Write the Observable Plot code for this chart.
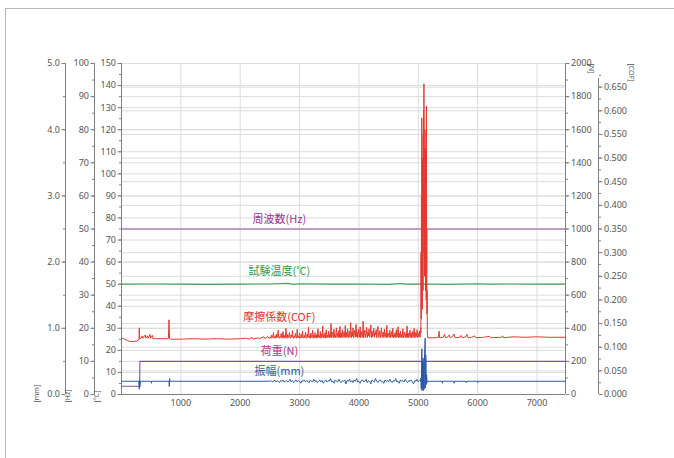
<!DOCTYPE html>
<html><head><meta charset="utf-8">
<script src="https://cdn.jsdelivr.net/npm/d3@7"></script>
<script src="https://cdn.jsdelivr.net/npm/@observablehq/plot@0.6"></script>
<style>
html,body{margin:0;padding:0;background:#fff;}
#chart{position:relative;width:674px;height:458px;overflow:hidden;}
#chart svg{position:absolute;left:0;top:0;}
#border{position:absolute;left:5px;top:8px;width:700px;height:500px;border-top:1.5px solid #b8b8b8;border-left:1.5px solid #b8b8b8;}
</style></head><body>
<div id="chart"><div id="border"></div></div>
<script>
// ---- tick values ----
const timeTicks = [1000, 2000, 3000, 4000, 5000, 6000, 7000];
const mmTicks = [0, 1, 2, 3, 4, 5];
const hzTicks = [0, 10, 20, 30, 40, 50, 60, 70, 80, 90, 100];
const tempTicks = [0, 10, 20, 30, 40, 50, 60, 70, 80, 90, 100, 110, 120, 130, 140, 150];
const loadTicks = [0, 200, 400, 600, 800, 1000, 1200, 1400, 1600, 1800, 2000];
const cofTicks = [0, 0.05, 0.1, 0.15, 0.2, 0.25, 0.3, 0.35, 0.4, 0.45, 0.5, 0.55, 0.6, 0.65];

// ---- series labels ----
const labelHz = "周波数(Hz)";
const labelTemp = "試験温度(˚C)";
const labelCof = "摩擦係数(COF)";
const labelLoad = "荷重(N)";
const labelAmp = "振幅(mm)";

// ---- series data: [time s, value] ----
const freqHz = [[0, 50], [7480, 50]];
const tempC = [[0, 50.0], [500, 50.1], [1000, 50.0], [1500, 49.9], [2000, 50.0], [2500, 50.1], [2800, 50.4], [2900, 49.9],
  [3000, 50.2], [3500, 50.0], [4000, 50.1], [4500, 49.9], [4700, 50.3], [4800, 50.0], [5100, 50.1], [5500, 49.9],
  [6000, 50.2], [6200, 50.0], [6500, 50.1], [7000, 50.0], [7480, 50.0]];
const loadN = [[0, 50], [305, 50], [310, 200], [7480, 200]];

// amplitude [mm]
const ampStart = [[0, 0.2], [290, 0.2], [300, 0.08], [305, 0.22], [310, 0.12], [320, 0.2], [500, 0.2], [505, 0.17], [510, 0.2],
  [800, 0.2], [805, 0.12], [810, 0.24], [815, 0.2], [2480, 0.2]];
const ampNoiseT0 = 2500, ampNoiseDt = 20;   // logged every 20 s
const ampNoise = [
  .20,.21,.19,.20,.22,.19,.21,.20,.18,.21,.20,.22,.19,.20,.21,.19,
  .20,.23,.19,.21,.18,.20,.22,.19,.21,.20,.17,.21,.20,.22,.19,.21,
  .20,.18,.22,.20,.19,.23,.20,.21,.18,.20,.22,.19,.21,.17,.20,.22,
  .19,.21,.20,.24,.19,.20,.17,.22,.20,.19,.23,.20,.18,.21,.20,.22,
  .16,.21,.20,.23,.19,.21,.18,.22,.20,.24,.19,.20,.17,.21,.22,.19,
  .20,.23,.18,.21,.20,.16,.22,.20,.19,.24,.20,.18,.21,.22,.19,.20,
  .17,.22,.20,.21,.19,.23,.20,.18,.21,.20,.24,.19,.20,.17,.22,.20,
  .21,.19,.23,.20,.18,.21,.20,.22,.19,.16,.21,.20,.23,.19,.21,.20];
const ampEnd = [[5045, 0.25], [5050, 0.08], [5055, 0.40], [5060, 0.69], [5064, 0.06], [5068, 0.50], [5072, 0.45], [5076, 0.10],
  [5080, 0.55], [5085, 0.06], [5090, 0.48], [5095, 0.40], [5100, 0.08], [5105, 0.62], [5110, 0.70], [5116, 0.85], [5120, 0.10],
  [5125, 0.60], [5130, 0.50], [5134, 0.15], [5140, 0.30], [5148, 0.18], [5158, 0.2], [5400, 0.2], [5405, 0.17], [5410, 0.2],
  [5600, 0.2], [5605, 0.17], [5610, 0.2], [5800, 0.2], [5805, 0.18], [5810, 0.2], [6000, 0.2], [6005, 0.18], [6010, 0.2], [7480, 0.2]];

// friction coefficient
const cofStart = [[0, 0.120], [40, 0.118], [100, 0.114], [150, 0.112], [200, 0.112], [260, 0.113], [295, 0.116], [300, 0.141], [305, 0.118],
  [330, 0.119], [350, 0.124], [360, 0.119], [400, 0.126], [410, 0.119], [440, 0.124], [450, 0.119], [480, 0.127], [490, 0.119],
  [520, 0.125], [530, 0.118], [600, 0.118], [790, 0.118], [800, 0.158], [810, 0.118], [830, 0.117], [1000, 0.117], [1200, 0.118],
  [1400, 0.117], [1600, 0.118], [1800, 0.117], [2000, 0.118], [2100, 0.119], [2150, 0.117], [2200, 0.121], [2220, 0.117],
  [2300, 0.120], [2320, 0.118], [2400, 0.122], [2420, 0.118], [2460, 0.123], [2480, 0.119]];
const cofNoiseT0 = 2500, cofNoiseDt = 10;   // logged every 10 s
const cofNoise = [
  .120,.122,.119,.126,.120,.121,.131,.119,.120,.124,.119,.128,.120,.121,.136,.120,.119,.123,.121,.129,
  .119,.120,.133,.121,.119,.125,.120,.140,.121,.119,.127,.120,.122,.131,.119,.120,.126,.121,.135,.120,
  .119,.124,.120,.129,.121,.119,.138,.120,.123,.120,.130,.119,.121,.127,.120,.134,.121,.119,.125,.120,
  .132,.120,.119,.128,.121,.142,.120,.124,.119,.130,.121,.120,.136,.119,.126,.120,.131,.121,.119,.127,
  .120,.139,.121,.124,.120,.133,.119,.128,.121,.145,.120,.126,.121,.131,.119,.137,.120,.125,.121,.134,
  .120,.128,.121,.150,.120,.127,.132,.120,.138,.121,.126,.120,.141,.122,.129,.120,.135,.121,.144,.120,
  .130,.121,.137,.120,.127,.133,.121,.146,.120,.131,.122,.139,.120,.128,.134,.121,.152,.120,.132,.123,
  .141,.120,.129,.136,.121,.148,.122,.131,.120,.138,.127,.121,.143,.120,.133,.125,.121,.155,.120,.130,
  .136,.121,.128,.142,.120,.132,.124,.139,.121,.129,.147,.120,.134,.122,.128,.140,.121,.131,.126,.137,
  .120,.133,.144,.121,.127,.135,.120,.130,.141,.121,.126,.132,.120,.138,.123,.129,.120,.146,.121,.130,
  .125,.121,.136,.120,.128,.133,.121,.140,.120,.127,.122,.131,.120,.137,.121,.126,.143,.120,.129,.121,
  .134,.120,.127,.121,.139,.120,.125,.132,.121,.128,.120,.145,.121,.130,.120,.126,.136,.121,.129,.120,
  .133,.121,.127,.140,.120,.131,.121,.126,.137,.120,.129,.122,.134,.121,.142];
const cofSpikeT0 = 5044, cofSpikeDt = 3;    // logged every 3 s during seizure
const cofSpike = [.13,.30,.16,.42,.20,.585,.25,.38,.18,.50,.30,.45,.22,.55,.35,.60,.40,.657,.30,.52,.25,.48,.35,.56,.28,.46,
  .22,.52,.30,.42,.20,.61,.26,.35,.17,.22,.14,.125];
const cofEnd = [[5160, 0.120], [5300, 0.120], [5340, 0.121], [5350, 0.134], [5360, 0.120],
  [5420, 0.121], [5440, 0.127], [5460, 0.120], [5500, 0.122], [5520, 0.126], [5540, 0.120], [5580, 0.123], [5600, 0.128],
  [5620, 0.120], [5700, 0.121], [5720, 0.125], [5740, 0.120], [5800, 0.122], [5820, 0.127], [5840, 0.120], [5900, 0.121],
  [5950, 0.124], [5970, 0.120], [6100, 0.121], [6200, 0.123], [6220, 0.120], [6400, 0.121], [6420, 0.124], [6440, 0.120],
  [6600, 0.122], [6800, 0.121], [7000, 0.122], [7200, 0.121], [7480, 0.121]];

// assemble logged segments
const logged = (t0, dt, vals) => vals.map((v, i) => [t0 + i * dt, v]);
const amplitudeMm = [...ampStart, ...logged(ampNoiseT0, ampNoiseDt, ampNoise), ...ampEnd];
const cof = [...cofStart, ...logged(cofNoiseT0, cofNoiseDt, cofNoise), ...logged(cofSpikeT0, cofSpikeDt, cofSpike), ...cofEnd];

// ---- layout ----
const W = 674, H = 458;
const xDomain = [0, 7480];
const tickFont = "'Noto Sans', 'DejaVu Sans', sans-serif";
const labelFont = "'Noto Sans CJK JP', 'Noto Sans', sans-serif";
const gridColor = "#dcdcdc";
const axisColor = "#808080";
const textColor = "#555";

function layer(yDomain, marks) {
  return Plot.plot({
    width: W, height: H,
    marginLeft: 121, marginRight: 109, marginTop: 63, marginBottom: 64,
    x: {domain: xDomain, axis: null},
    y: {domain: yDomain, axis: null},
    style: {background: "transparent", fontFamily: tickFont, fontSize: "9px", overflow: "visible"},
    marks
  });
}
const X = d => d[0], Y = d => d[1];
function yAxis(ticks, minor, dx, anchor, fmt) {
  return [
    Plot.axisY(minor, {anchor, dx, tickSize: 2, tickFormat: () => "", stroke: axisColor, label: null}),
    Plot.axisY(ticks, {anchor, dx, tickSize: 3.5, tickPadding: 2, tickFormat: fmt, stroke: axisColor, fill: textColor, label: null})
  ];
}
function unitLabel(t, frameAnchor, dx, dy, rotate) {
  return Plot.text([t], {text: d => d, frameAnchor, dx, dy, rotate, textAnchor: "start", fontSize: 7, fill: textColor});
}

const chart = document.getElementById("chart");
const add = svg => chart.appendChild(svg);

// ---- background grids ----
add(layer([0, 150], [
  Plot.gridX(timeTicks, {stroke: gridColor, strokeOpacity: 1}),
  Plot.gridY(tempTicks, {stroke: gridColor, strokeOpacity: 1})
]));
add(layer([0, 2000], [Plot.gridY(loadTicks, {stroke: gridColor, strokeOpacity: 1})]));
add(layer([0, 0.7], [Plot.gridY(cofTicks.slice(1), {stroke: gridColor, strokeOpacity: 1})]));

// ---- amplitude axis [mm] ----
add(layer([0, 5], [
  ...yAxis(mmTicks, d3.range(0, 5.01, 0.5), -56, "left", d => d.toFixed(1)),
  Plot.ruleX([0], {dx: -56, stroke: axisColor}),
  unitLabel("[mm]", "bottom-left", -83, 8, -90)
]));
// ---- frequency [Hz] ----
add(layer([0, 100], [
  ...yAxis(hzTicks, d3.range(0, 101, 5), -27, "left", d => String(d)),
  Plot.ruleX([0], {dx: -27, stroke: axisColor}),
  unitLabel("[Hz]", "bottom-left", -52, 8, -90),
  Plot.line(freqHz, {x: X, y: Y, stroke: "#a0559e", strokeWidth: 1.1}),
  Plot.text([freqHz[0]], {x: () => 2660, y: Y, dy: -10, text: () => labelHz, fill: "#9c3196", fontSize: 11, fontFamily: labelFont})
]));
// ---- temperature [°C] + x axis ----
add(layer([0, 150], [
  ...yAxis(tempTicks, d3.range(0, 151, 5), 0, "left", d => String(d)),
  Plot.ruleX([0], {stroke: axisColor}),
  Plot.ruleY([0], {stroke: axisColor}),
  Plot.axisX(timeTicks, {anchor: "bottom", tickSize: 0, tickPadding: 5, tickFormat: d => String(d), fill: textColor, label: null}),
  unitLabel("[°C]", "bottom-left", -23, 8, -90),
  Plot.line(tempC, {x: X, y: Y, stroke: "#44a055", strokeWidth: 1.1}),
  Plot.text([tempC[0]], {x: () => 2660, y: () => 50, dy: -12.5, text: () => labelTemp, fill: "#2f9a48", fontSize: 11, fontFamily: labelFont})
]));
// ---- load [N] ----
add(layer([0, 2000], [
  ...yAxis(loadTicks, d3.range(0, 2001, 100), 0, "right", d => String(d)),
  Plot.ruleX([7480], {stroke: axisColor}),
  unitLabel("[N]", "top-right", 28, 0, 90),
  Plot.line(loadN, {x: X, y: Y, stroke: "#7a55a3", strokeWidth: 1.1}),
  Plot.text([loadN[3]], {x: () => 2660, y: Y, dy: -10, text: () => labelLoad, fill: "#a8338c", fontSize: 11, fontFamily: labelFont})
]));
// ---- amplitude series (mm scale, above load) ----
add(layer([0, 5], [
  Plot.line(amplitudeMm, {x: X, y: Y, stroke: "#2c5aa8", strokeWidth: 1}),
  Plot.text([amplitudeMm[0]], {x: () => 2660, y: Y, dy: -10, text: () => labelAmp, fill: "#2f5db0", fontSize: 11, fontFamily: labelFont})
]));
// ---- COF ----
add(layer([0, 0.7], [
  ...yAxis(cofTicks, d3.range(0, 0.6751, 0.025), 33, "right", d => d.toFixed(3)),
  Plot.ruleX([7480], {y1: 0, y2: 0.668, dx: 33, stroke: axisColor}),
  unitLabel("[COF]", "top-right", 68, 0, 90),
  Plot.line(cof, {x: X, y: Y, stroke: "#e53a2f", strokeWidth: 1}),
  Plot.text([cof[0]], {x: () => 2660, y: () => 0.118, dy: -21.5, text: () => labelCof, fill: "#e5322b", fontSize: 11, fontFamily: labelFont})
]));
</script>
</body></html>
